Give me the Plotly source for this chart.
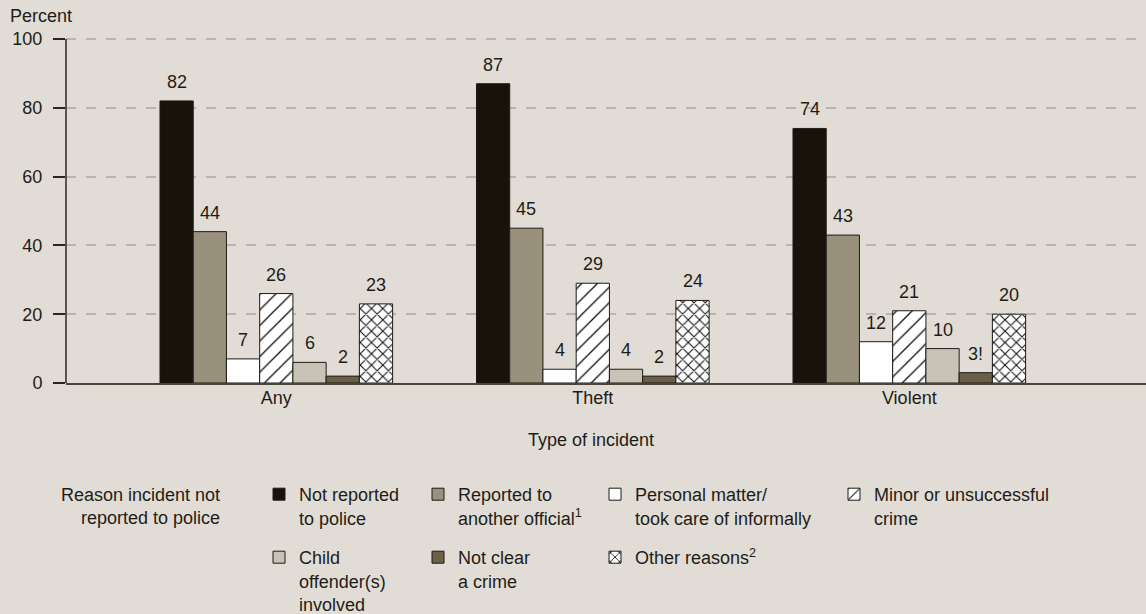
import plotly.graph_objects as go

# ---------------- data ----------------
categories = ["Any", "Theft", "Violent"]
series_names = [
    "Not reported<br>to police",
    "Reported to<br>another official<sup>1</sup>",
    "Personal matter/<br>took care of informally",
    "Minor or unsuccessful<br>crime",
    "Child<br>offender(s)<br>involved",
    "Not clear<br>a crime",
    "Other reasons<sup>2</sup>",
]
not_reported = [82, 87, 74]
reported_other = [44, 45, 43]
personal_matter = [7, 4, 12]
minor_crime = [26, 29, 21]
child_offender = [6, 4, 10]
not_clear = [2, 2, 3]
other_reasons = [23, 24, 20]
not_clear_labels = ["2", "2", "3!"]
y_ticks = [0, 20, 40, 60, 80, 100]

series_values = [not_reported, reported_other, personal_matter, minor_crime,
                 child_offender, not_clear, other_reasons]
series_labels = [[str(v) for v in s] for s in series_values]
series_labels[5] = not_clear_labels

# ---------------- styles ----------------
FONT = "Liberation Sans"
FS = 18
TXT = "#1f1c17"
BG = "#e1ddd6"
OUTLINE = "#1e1b16"
fills = ["#18130a", "#9a917d", "#ffffff", "#ffffff", "#c9c3b7", "#6b5f48", "#ffffff"]
patterns = [None, None, None,
            dict(shape="/", size=11, solidity=0.12, fgcolor="#111111", bgcolor="#ffffff", fillmode="replace"),
            None, None,
            dict(shape="x", size=8, solidity=0.25, fgcolor="#111111", bgcolor="#ffffff", fillmode="replace")]

W, H = 1146, 614
ML, MR, MT, MB = 66, 0, 37, 231
PW = W - ML - MR
PH = H - MT - MB
Y_SCALE = 3.44  # px per percent
Y_TOP = PH / Y_SCALE

def px_x(px):
    return (px - ML) / PW

def px_y(py):
    return (H - MB - py) / PH

# legend boxes (left, top) in pixels for each series
legend_pos = [(259, 476), (418, 476), (595, 476), (834, 476),
              (259, 539), (418, 539), (595, 539)]

BARGAP = 0.265
n = len(series_values)
w = (1 - BARGAP) / n
xs = list(range(len(categories)))
GROUP0_PX, GROUP_STEP_PX = 276.3, 316.5

fig = go.Figure()
for i, (name, vals) in enumerate(zip(series_names, series_values)):
    marker = dict(color=fills[i], line=dict(color=OUTLINE, width=1))
    if patterns[i] is not None:
        marker["pattern"] = patterns[i]
    lg = "legend" if i == 0 else f"legend{i+1}"
    fig.add_trace(go.Bar(x=xs, y=vals, name=name, marker=marker, legend=lg,
                         hoverinfo="skip"))

# data labels above bars
for i, (vals, labs) in enumerate(zip(series_values, series_labels)):
    for j, (v, lab) in enumerate(zip(vals, labs)):
        fig.add_annotation(x=xs[j] + (i - (n - 1) / 2) * w, y=v, text=lab,
                           showarrow=False, yanchor="middle", yshift=19,
                           font=dict(family=FONT, size=FS, color=TXT))

layout_legends = {}
for i, (lx, ly) in enumerate(legend_pos):
    key = "legend" if i == 0 else f"legend{i+1}"
    layout_legends[key] = dict(x=px_x(lx), y=px_y(ly), xanchor="left", yanchor="top",
                               orientation="v", valign="top", bgcolor="rgba(0,0,0,0)",
                               borderwidth=0, font=dict(family=FONT, size=FS, color=TXT),
                               itemclick=False, itemdoubleclick=False)

fig.update_layout(
    width=W, height=H,
    margin=dict(l=ML, r=MR, t=MT, b=MB, pad=0, autoexpand=False),
    paper_bgcolor=BG, plot_bgcolor=BG,
    barmode="group", bargap=BARGAP, bargroupgap=0,
    font=dict(family=FONT, size=FS, color=TXT),
    showlegend=True,
    **layout_legends,
    xaxis=dict(range=[(ML - GROUP0_PX) / GROUP_STEP_PX, (W - MR - GROUP0_PX) / GROUP_STEP_PX],
               tickvals=xs, ticktext=categories, showgrid=False, zeroline=False,
               showline=True, linecolor="#4a4438", linewidth=2, ticks="",
               ticklabelstandoff=-3,
               tickfont=dict(family=FONT, size=FS, color=TXT)),
    yaxis=dict(range=[0, Y_TOP], tickvals=y_ticks, showgrid=True, gridcolor="#b9b5ad",
               gridwidth=1.5, griddash="10px,10px", zeroline=False,
               showline=False,
               ticks="outside", ticklen=12, tickwidth=1.5, tickcolor="#2a2620",
               ticklabelstandoff=7,
               tickfont=dict(family=FONT, size=FS, color=TXT)),
    shapes=[dict(type="line", xref="paper", yref="y", x0=0, x1=0, y0=0, y1=max(y_ticks),
                 line=dict(color="#2a2620", width=1.5), layer="above")],
)

fig.add_annotation(text="Percent", xref="paper", yref="paper", x=px_x(8), y=px_y(16),
                   xanchor="left", yanchor="middle", showarrow=False,
                   font=dict(family=FONT, size=FS, color=TXT))
fig.add_annotation(text="Type of incident", xref="paper", yref="paper", x=px_x(591), y=px_y(440),
                   xanchor="center", yanchor="middle", showarrow=False,
                   font=dict(family=FONT, size=FS, color=TXT))
fig.add_annotation(text="Reason incident not<br>reported to police", xref="paper", yref="paper",
                   x=px_x(222), y=px_y(506), xanchor="right", yanchor="middle", align="right",
                   showarrow=False, font=dict(family=FONT, size=FS, color=TXT))

fig.write_html("out.html", config={"displayModeBar": False},
               post_script="document.body.style.margin='0';document.body.style.overflow='hidden';")
